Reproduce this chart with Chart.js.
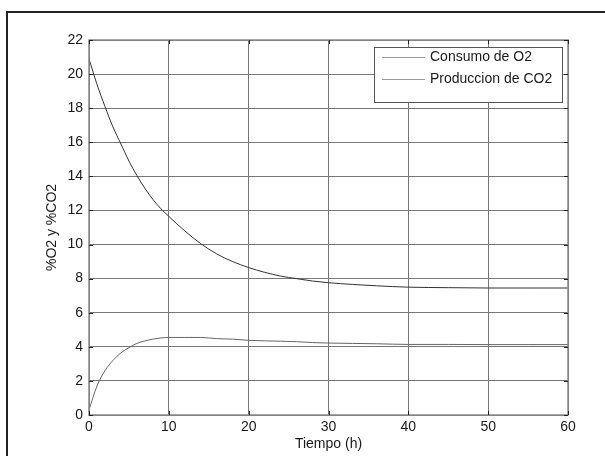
<!DOCTYPE html>
<html>
<head>
<meta charset="utf-8">
<script src="https://cdn.jsdelivr.net/npm/chart.js@4/dist/chart.umd.min.js"></script>
<style>
  html, body { margin: 0; padding: 0; background: #fff; }
  #wrap { position: relative; width: 605px; height: 456px; }
  canvas { display: block; }
</style>
</head>
<body>
<div id="wrap"><canvas id="c" width="605" height="456"></canvas></div>
<script>
// ---- Data ----
const timeHours = [0,1,2,3,4,5,6,7,8,9,10,12,14,16,18,20,22,24,26,28,30,33,36,40,45,50,55,60];
const o2Values  = [20.9,19.4,18.1,16.9,15.9,14.9,14.05,13.3,12.65,12.1,11.65,10.8,10.05,9.45,9.0,8.65,8.37,8.15,8.0,7.86,7.76,7.66,7.58,7.5,7.47,7.45,7.45,7.45];
const co2Values = [0.3,1.7,2.6,3.2,3.65,3.95,4.2,4.35,4.45,4.52,4.55,4.55,4.55,4.48,4.45,4.38,4.35,4.33,4.3,4.25,4.22,4.2,4.18,4.14,4.14,4.13,4.13,4.13];
const seriesLabels = ['Consumo de O2', 'Produccion de CO2'];
const xTitle = 'Tiempo (h)';
const yTitle = '%O2 y %CO2';

const toPoints = (xs, ys) => xs.map((x, i) => ({x: x, y: ys[i]}));

const FONT = 'Liberation Sans, Arial, Helvetica, sans-serif';

const framePlugin = {
  id: 'frame',
  beforeDraw(chart) {
    const ctx = chart.ctx;
    ctx.save();
    ctx.fillStyle = '#fff';
    ctx.fillRect(0, 0, chart.width, chart.height);
    ctx.strokeStyle = '#222';
    ctx.lineWidth = 2;
    ctx.beginPath();
    ctx.moveTo(7, 460);
    ctx.lineTo(7, 12);
    ctx.lineTo(605, 12);
    ctx.stroke();
    ctx.restore();
  },
  afterDatasetsDraw(chart) {
    const ctx = chart.ctx;
    const a = chart.chartArea;
    const xs = chart.scales.x, ys = chart.scales.y;
    ctx.save();
    // axes box
    ctx.strokeStyle = '#888';
    ctx.lineWidth = 1.5;
    ctx.strokeRect(a.left, a.top, a.right - a.left, a.bottom - a.top);
    // inward tick marks
    ctx.strokeStyle = '#222';
    ctx.lineWidth = 1;
    ctx.beginPath();
    xs.ticks.forEach(t => {
      const px = Math.round(xs.getPixelForValue(t.value)) + 0.5;
      ctx.moveTo(px, a.bottom); ctx.lineTo(px, a.bottom - 4);
      ctx.moveTo(px, a.top); ctx.lineTo(px, a.top + 4);
    });
    ys.ticks.forEach(t => {
      const py = Math.round(ys.getPixelForValue(t.value)) + 0.5;
      ctx.moveTo(a.left, py); ctx.lineTo(a.left + 4, py);
      ctx.moveTo(a.right, py); ctx.lineTo(a.right - 4, py);
    });
    ctx.stroke();
    // legend box
    const bx = 374, by = 47, bw = 188, bh = 55;
    ctx.fillStyle = '#fff';
    ctx.fillRect(bx, by, bw, bh);
    ctx.strokeStyle = '#555';
    ctx.lineWidth = 1;
    ctx.strokeRect(bx + 0.5, by + 0.5, bw, bh);
    ctx.font = '14px ' + FONT;
    ctx.textBaseline = 'middle';
    ctx.textAlign = 'left';
    chart.data.datasets.forEach((ds, i) => {
      const yy = 57 + i * 22;
      ctx.strokeStyle = '#999';
      ctx.beginPath();
      ctx.moveTo(382, yy + 0.5); ctx.lineTo(425, yy + 0.5);
      ctx.stroke();
      ctx.fillStyle = '#1a1a1a';
      ctx.fillText(ds.label, 430, yy);
    });
    ctx.restore();
  }
};

new Chart(document.getElementById('c'), {
  type: 'line',
  data: {
    datasets: [
      { label: seriesLabels[0], data: toPoints(timeHours, o2Values), borderColor: '#333', borderWidth: 1, pointRadius: 0, cubicInterpolationMode: 'monotone', fill: false },
      { label: seriesLabels[1], data: toPoints(timeHours, co2Values), borderColor: '#666', borderWidth: 1, pointRadius: 0, cubicInterpolationMode: 'monotone', fill: false }
    ]
  },
  options: {
    responsive: false,
    animation: false,
    events: [],
    layout: { padding: { top: 40, right: 37, left: 0, bottom: 0 } },
    plugins: { legend: { display: false }, tooltip: { enabled: false } },
    scales: {
      x: {
        type: 'linear', min: 0, max: 60,
        ticks: { stepSize: 10, color: '#1a1a1a', font: { family: FONT, size: 14 }, padding: 4, maxRotation: 0 },
        grid: { color: '#777', lineWidth: 1, drawTicks: false },
        border: { display: false },
        title: { display: true, text: xTitle, color: '#1a1a1a', font: { family: FONT, size: 14 }, padding: { top: 0, bottom: 3 } },
        afterFit: s => { s.height = 41; }
      },
      y: {
        type: 'linear', min: 0, max: 22,
        ticks: { stepSize: 2, color: '#1a1a1a', font: { family: FONT, size: 14 }, padding: 6 },
        grid: { color: '#777', lineWidth: 1, drawTicks: false },
        border: { display: false },
        title: { display: true, text: yTitle, color: '#1a1a1a', font: { family: FONT, size: 14 }, padding: { top: 44, bottom: 0 } },
        afterFit: s => { s.width = 89; }
      }
    }
  },
  plugins: [framePlugin]
});
</script>
</body>
</html>
